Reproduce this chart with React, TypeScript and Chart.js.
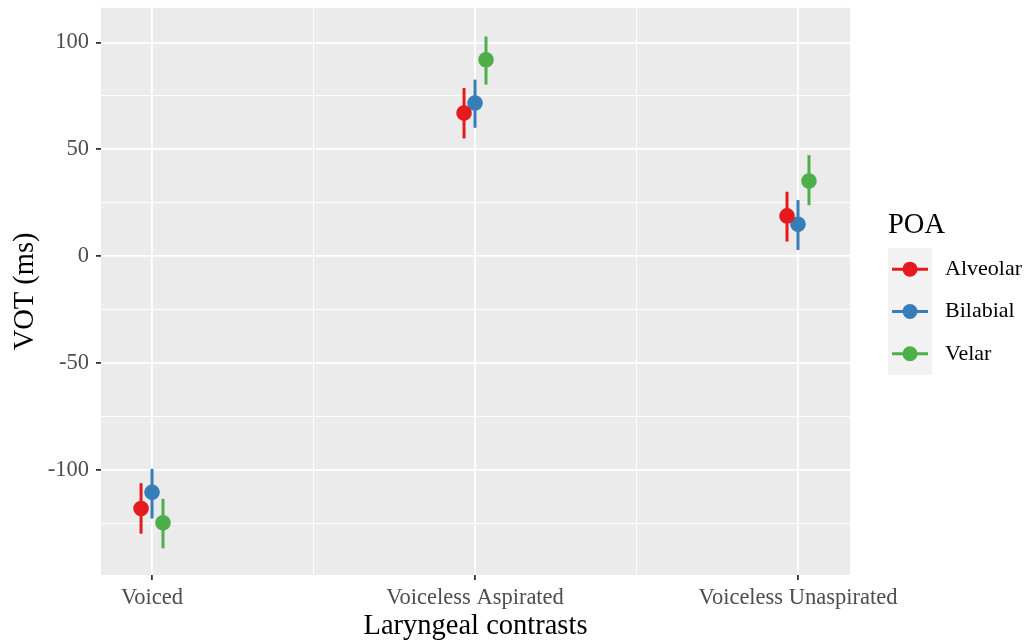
import React, { useEffect, useRef } from 'react';
import { Chart, registerables } from 'chart.js';

Chart.register(...registerables);

// Laryngeal contrast categories on the x axis
const categories = ['Voiced', 'Voiceless Aspirated', 'Voiceless Unaspirated'];

// Place of articulation groups
const poaGroups = ['Alveolar', 'Bilabial', 'Velar'];
const poaColors = ['#E41A1C', '#377EB8', '#4DAF4A'];

// Mean VOT (ms) with lower / upper interval bounds, per category
const alveolarMean = [-117.9, 67.0, 18.9];
const alveolarLow = [-129.7, 55.1, 6.9];
const alveolarHigh = [-106.1, 78.7, 30.2];

const bilabialMean = [-110.3, 71.7, 15.0];
const bilabialLow = [-122.6, 60.1, 3.0];
const bilabialHigh = [-99.4, 82.6, 26.3];

const velarMean = [-124.6, 91.9, 35.2];
const velarLow = [-136.5, 80.3, 23.9];
const velarHigh = [-113.4, 102.8, 47.3];

// Labelled y ticks (minor grid lines fall halfway between them)
const yTickValues = [-100, -50, 0, 50, 100];

const SERIF = '"Liberation Serif", "Times New Roman", serif';
const DODGE = 0.034; // horizontal dodge between groups, in category units
const PANEL_BG = '#EBEBEB';
const TICK_TEXT = '#4D4D4D';

const meanSets = [alveolarMean, bilabialMean, velarMean];
const lowSets = [alveolarLow, bilabialLow, velarLow];
const highSets = [alveolarHigh, bilabialHigh, velarHigh];

const isMajorY = (v: number) => yTickValues.includes(v);
const isMajorX = (v: number) => Number.isInteger(v);

const panelBackground = {
  id: 'panelBackground',
  beforeDraw(chart: any) {
    const { ctx, chartArea } = chart;
    ctx.save();
    ctx.fillStyle = PANEL_BG;
    ctx.fillRect(chartArea.left, chartArea.top, chartArea.right - chartArea.left, chartArea.bottom - chartArea.top);
    ctx.restore();
  },
};

const errorBars = {
  id: 'errorBars',
  beforeDatasetsDraw(chart: any) {
    const { ctx, scales } = chart;
    ctx.save();
    ctx.lineWidth = 3;
    ctx.lineCap = 'butt';
    chart.data.datasets.forEach((ds: any) => {
      ctx.strokeStyle = ds.backgroundColor;
      ds.data.forEach((pt: any, i: number) => {
        const px = scales.x.getPixelForValue(pt.x);
        const top = scales.y.getPixelForValue(ds.errHigh[i]);
        const bottom = scales.y.getPixelForValue(ds.errLow[i]);
        ctx.beginPath();
        ctx.moveTo(px, top);
        ctx.lineTo(px, bottom);
        ctx.stroke();
      });
    });
    ctx.restore();
  },
};

const poaLegend = {
  id: 'poaLegend',
  afterDraw(chart: any) {
    const { ctx } = chart;
    ctx.save();
    ctx.textAlign = 'left';
    ctx.textBaseline = 'middle';
    ctx.fillStyle = '#000';
    ctx.font = `28.5px ${SERIF}`;
    ctx.fillText('POA', 888, 226);

    const keyLeft = 888;
    const keyTop = 248;
    const keyW = 44;
    const keyH = 42.3;
    ctx.fillStyle = '#F2F2F2';
    ctx.fillRect(keyLeft, keyTop, keyW, keyH * poaGroups.length);

    poaGroups.forEach((name, i) => {
      const cy = keyTop + keyH * (i + 0.5);
      ctx.strokeStyle = poaColors[i];
      ctx.lineWidth = 3;
      ctx.beginPath();
      ctx.moveTo(keyLeft + 4, cy);
      ctx.lineTo(keyLeft + keyW - 4, cy);
      ctx.stroke();
      ctx.fillStyle = poaColors[i];
      ctx.beginPath();
      ctx.arc(keyLeft + keyW / 2, cy, 7.5, 0, Math.PI * 2);
      ctx.fill();
      ctx.fillStyle = '#000';
      ctx.font = `22px ${SERIF}`;
      ctx.fillText(name, 945, cy);
    });
    ctx.restore();
  },
};

export default function App() {
  const canvasRef = useRef<HTMLCanvasElement | null>(null);

  useEffect(() => {
    if (!canvasRef.current) return;

    const datasets = poaGroups.map((name, g) => ({
      label: name,
      data: meanSets[g].map((m, i) => ({ x: i + 1 + (g - 1) * DODGE, y: m })),
      errLow: lowSets[g],
      errHigh: highSets[g],
      backgroundColor: poaColors[g],
      borderWidth: 0,
      pointRadius: 7.8,
      pointHoverRadius: 7.8,
    }));

    const chart = new Chart(canvasRef.current, {
      type: 'scatter',
      data: { datasets: datasets as any },
      plugins: [panelBackground, errorBars, poaLegend],
      options: {
        animation: false,
        responsive: false,
        devicePixelRatio: 1,
        events: [],
        layout: { padding: { top: 7, right: 181, bottom: 0, left: 0 } },
        plugins: {
          legend: { display: false },
          tooltip: { enabled: false },
        },
        scales: {
          x: {
            type: 'linear',
            min: 0.842,
            max: 3.161,
            afterBuildTicks: (s: any) => {
              s.ticks = [1, 1.5, 2, 2.5, 3].map((v) => ({ value: v }));
            },
            afterFit: (s: any) => {
              s.height = 66;
              s.paddingLeft = 0;
              s.paddingRight = 0;
              s.paddingTop = 0;
              s.paddingBottom = 0;
            },
            ticks: {
              autoSkip: false,
              maxRotation: 0,
              padding: 5,
              color: TICK_TEXT,
              font: { family: SERIF, size: 22.5 },
              callback: (v: any) => (isMajorX(Number(v)) ? categories[Number(v) - 1] : ''),
            },
            grid: {
              color: '#FFFFFF',
              lineWidth: (c: any) => (c.tick && isMajorX(c.tick.value) ? 1.8 : 0.9),
              tickColor: (c: any) => (c.tick && isMajorX(c.tick.value) ? '#333333' : 'rgba(0,0,0,0)'),
              tickLength: 5,
              tickWidth: 1.8,
            },
            border: { display: false },
            title: {
              display: true,
              text: 'Laryngeal contrasts',
              color: '#000',
              font: { family: SERIF, size: 28.5, lineHeight: 1 },
              padding: { top: 0, bottom: 0 },
            },
          },
          y: {
            type: 'linear',
            min: -149,
            max: 116.2,
            afterBuildTicks: (s: any) => {
              const vals: number[] = [];
              for (let v = -125; v <= 100; v += 25) vals.push(v);
              s.ticks = vals.map((v) => ({ value: v }));
            },
            afterFit: (s: any) => {
              s.width = 101;
              s.paddingLeft = 0;
              s.paddingRight = 0;
              s.paddingTop = 0;
              s.paddingBottom = 0;
            },
            ticks: {
              autoSkip: false,
              padding: 7,
              color: TICK_TEXT,
              font: { family: SERIF, size: 22.5 },
              callback: (v: any) => (isMajorY(Number(v)) ? String(v) : ''),
            },
            grid: {
              color: '#FFFFFF',
              lineWidth: (c: any) => (c.tick && isMajorY(c.tick.value) ? 1.8 : 0.9),
              tickColor: (c: any) => (c.tick && isMajorY(c.tick.value) ? '#333333' : 'rgba(0,0,0,0)'),
              tickLength: 5,
              tickWidth: 1.8,
            },
            border: { display: false },
            title: {
              display: true,
              text: 'VOT (ms)',
              color: '#000',
              font: { family: SERIF, size: 28.5 },
              padding: { top: 8, bottom: 0 },
            },
          },
        },
      } as any,
    });

    return () => chart.destroy();
  }, []);

  return (
    <div style={{ position: 'fixed', left: 0, top: 0, width: 1031, height: 641, background: '#fff' }}>
      <canvas ref={canvasRef} width={1031} height={641} />
    </div>
  );
}
